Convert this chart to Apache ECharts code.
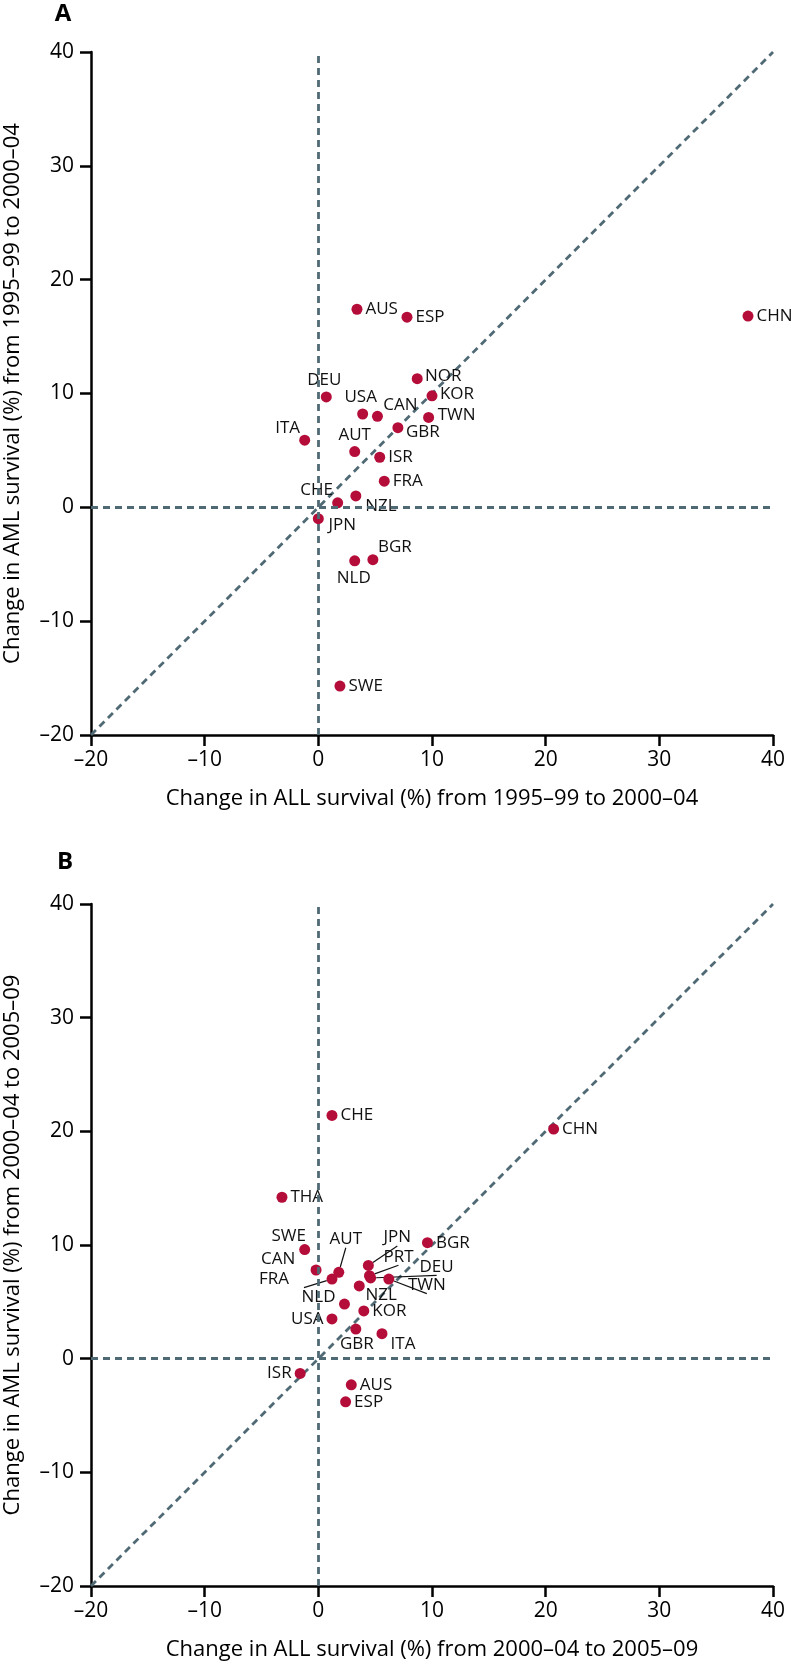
<!DOCTYPE html>
<html>
<head>
<meta charset="utf-8">
<script src="https://cdn.jsdelivr.net/npm/echarts@6/dist/echarts.min.js"></script>
<style>
  html, body { margin: 0; padding: 0; background: #fff; }
  #chart { width: 791px; height: 1664px; }
</style>
</head>
<body>
<div id="chart"></div>
<script>
// panel A: change 1995–99 -> 2000–04
const countriesA = ["AUS", "ESP", "CHN", "NOR", "KOR", "TWN", "DEU", "USA", "CAN", "GBR", "ITA", "AUT", "ISR", "FRA", "CHE", "NZL", "JPN", "BGR", "NLD", "SWE"];
const allChangeA = [3.4, 7.8, 37.8, 8.7, 10.0, 9.7, 0.7, 3.9, 5.2, 7.0, -1.2, 3.2, 5.4, 5.8, 1.7, 3.3, 0.0, 4.8, 3.2, 1.9];
const amlChangeA = [17.4, 16.7, 16.8, 11.3, 9.8, 7.9, 9.7, 8.2, 8.0, 7.0, 5.9, 4.9, 4.4, 2.3, 0.4, 1.0, -1.0, -4.6, -4.7, -15.7];

// panel B: change 2000–04 -> 2005–09
const countriesB = ["CHE", "CHN", "THA", "SWE", "BGR", "CAN", "AUT", "FRA", "JPN", "PRT", "DEU", "TWN", "NZL", "NLD", "KOR", "USA", "GBR", "ITA", "ISR", "AUS", "ESP"];
const allChangeB = [1.2, 20.7, -3.2, -1.2, 9.6, -0.2, 1.8, 1.2, 4.4, 4.5, 4.6, 6.2, 3.6, 2.3, 4.0, 1.2, 3.3, 5.6, -1.6, 2.9, 2.4];
const amlChangeB = [21.4, 20.2, 14.2, 9.6, 10.2, 7.8, 7.6, 7.0, 8.2, 7.3, 7.1, 7.0, 6.4, 4.8, 4.2, 3.5, 2.6, 2.2, -1.3, -2.3, -3.8];

const axisRange = [-20, 40];
const tickStep = 10;

const xTitles = ["Change in ALL survival (%) from 1995–99 to 2000–04", "Change in ALL survival (%) from 2000–04 to 2005–09"];
const yTitles = ["Change in AML survival (%) from 1995–99 to 2000–04", "Change in AML survival (%) from 2000–04 to 2005–09"];

// label placement: default right; "left"; or [dx, dy, leaderLine] from dot centre
const placeA = {
  DEU: [-2, -17], USA: [-2, -17], CAN: [23, -11], GBR: [25, 5], ITA: [-17, -12],
  AUT: [0, -16], CHE: [-21, -13], NZL: [25, 10], JPN: [24, 6], BGR: [22, -13],
  NLD: [-1, 17], NOR: [26, -3], KOR: [25, -2], TWN: [28, -2]
};
const placeB = {
  SWE: [-16, -13], CAN: [-38, -11, true], FRA: [-58, 0, true], AUT: [7, -33, true],
  JPN: [29, -28, true], PRT: [29, -19, true], DEU: [66, -11, true], TWN: [38, 6, true],
  NZL: [22, 9], NLD: [-26, -7], USA: "left", GBR: [1, 15], ITA: [21, 10], ISR: "left"
};

const font = "'Open Sans', sans-serif";
const dotColor = "#b50d3a";
const refColor = "#506a75";

const fmt = v => (v < 0 ? "\u2013" + Math.abs(v) : String(v));

const buildPoints = (names, xs, ys, place) =>
  names.map((n, i) => {
    const p = place[n];
    const item = { name: n, value: [xs[i], ys[i]] };
    if (p === "left") item.label = { position: "left" };
    else if (Array.isArray(p)) item.label = { position: "inside", offset: [p[0], p[1]] };
    if (Array.isArray(p) && p[2]) item.labelLine = { show: true };
    return item;
  });

const refLine = { color: refColor, width: 2.8, type: [7, 5] };

const xAxisCfg = (gi, name) => ({
  gridIndex: gi,
  type: "value",
  min: axisRange[0],
  max: axisRange[1],
  interval: tickStep,
  name: name,
  nameLocation: "middle",
  nameGap: 53,
  nameTextStyle: { fontSize: 22, color: "#000", fontFamily: font },
  axisLine: { show: true, onZero: false, lineStyle: { color: "#000", width: 2.5 } },
  axisTick: { show: true, inside: false, length: 11, lineStyle: { color: "#000", width: 2.5 } },
  axisLabel: { fontSize: 21, color: "#000", fontFamily: font, margin: 15, formatter: fmt },
  splitLine: { show: false }
});

const yAxisCfg = (gi, name) => ({
  gridIndex: gi,
  type: "value",
  min: axisRange[0],
  max: axisRange[1],
  interval: tickStep,
  name: name,
  nameLocation: "middle",
  nameGap: 67,
  nameTextStyle: { fontSize: 22, color: "#000", fontFamily: font },
  axisLine: { show: true, onZero: false, lineStyle: { color: "#000", width: 2.5 } },
  axisTick: { show: true, inside: false, length: 11, lineStyle: { color: "#000", width: 2.5 } },
  axisLabel: { fontSize: 21, color: "#000", fontFamily: font, margin: 17, formatter: fmt },
  splitLine: { show: false }
});

const refSeries = gi => ({
  type: "line",
  xAxisIndex: gi,
  yAxisIndex: gi,
  data: [[axisRange[0], axisRange[0]], [axisRange[1], axisRange[1]]],
  showSymbol: false,
  silent: true,
  z: 1,
  lineStyle: refLine,
  markLine: {
    silent: true,
    symbol: "none",
    label: { show: false },
    lineStyle: refLine,
    data: [{ xAxis: 0 }, { yAxis: 0 }]
  }
});

const dotSeries = (gi, data) => ({
  type: "scatter",
  xAxisIndex: gi,
  yAxisIndex: gi,
  data: data,
  symbol: "circle",
  symbolSize: 11,
  z: 3,
  itemStyle: { color: dotColor, opacity: 1 },
  emphasis: { disabled: true },
  label: {
    show: true,
    position: "right",
    distance: 3,
    formatter: "{b}",
    fontSize: 17,
    color: "#111",
    fontFamily: font
  },
  labelLine: { show: false, lineStyle: { color: "#111", width: 1.2 } }
});

const myChart = echarts.init(document.getElementById("chart"));

const option = {
  animation: false,
  backgroundColor: "#fff",
  grid: [
    { left: 91, top: 52, width: 682, height: 683, outerBoundsMode: "none" },
    { left: 91, top: 904, width: 682, height: 682, outerBoundsMode: "none" }
  ],
  xAxis: [xAxisCfg(0, xTitles[0]), xAxisCfg(1, xTitles[1])],
  yAxis: [yAxisCfg(0, yTitles[0]), yAxisCfg(1, yTitles[1])],
  graphic: [
    { type: "text", x: 63, y: 14, style: { text: "A", fontSize: 24, fontWeight: "bold", fontFamily: font, fill: "#000", textAlign: "center", textVerticalAlign: "middle" } },
    { type: "text", x: 65, y: 862, style: { text: "B", fontSize: 24, fontWeight: "bold", fontFamily: font, fill: "#000", textAlign: "center", textVerticalAlign: "middle" } }
  ],
  series: [
    refSeries(0),
    refSeries(1),
    dotSeries(0, buildPoints(countriesA, allChangeA, amlChangeA, placeA)),
    dotSeries(1, buildPoints(countriesB, allChangeB, amlChangeB, placeB))
  ]
};

myChart.setOption(option);
</script>
</body>
</html>
